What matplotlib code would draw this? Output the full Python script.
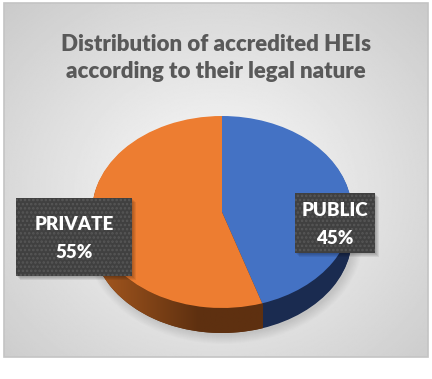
import numpy as np
import matplotlib
matplotlib.use("Agg")
import matplotlib.pyplot as plt
from matplotlib.colors import to_rgb
from matplotlib.patches import Rectangle, Ellipse, Polygon

# ── Data ──────────────────────────────────────────────────────────────────────
labels = ["PUBLIC", "PRIVATE"]
shares = [45, 55]
top_colors = ["#4472C4", "#ED7D31"]
side_colors = ["#1a2b50", "#5e3010"]
title = "Distribution of accredited HEIs\naccording to their legal nature"

plt.rcParams["hatch.linewidth"] = 1.2

W, H = 432, 379
fig = plt.figure(figsize=(W / 100, H / 100), dpi=100)
fig.patch.set_facecolor("white")

# ── Background panel (pixel coordinates) ──────────────────────────────────────
bg = fig.add_axes([0, 0, 1, 1])
x0, y0, x1, y1 = 4, 3, 428, 357
xx, yy = np.meshgrid(np.linspace(x0, x1, 300), np.linspace(y0, y1, 300))
r = np.sqrt(((xx - 216) / 250) ** 2 + ((yy - 190) / 220) ** 2)
shade = np.clip(0.985 - 0.16 * r, 0, 1)
bg.imshow(shade, cmap="gray", vmin=0, vmax=1, extent=[x0, x1, y1, y0],
          aspect="auto", interpolation="bilinear", zorder=0)
bg.add_patch(Rectangle((x0, y0), x1 - x0, y1 - y0, fill=False,
                       ec="#c4c4c4", lw=1.2, zorder=1))
bg.set_xlim(0, W)
bg.set_ylim(H, 0)
bg.axis("off")

# pie geometry in pixels
cx, cy, rx, ry, depth = 222, 212, 130, 96, 25

# soft shadow under the pie
for k in range(10):
    bg.add_patch(Ellipse((cx + 2, cy + depth + 2), 2 * rx + 2 * k, 2 * ry + 2 * k,
                         fc="black", ec="none", alpha=0.012, zorder=1))

# ── Pie ───────────────────────────────────────────────────────────────────────
m = 1.05
d = depth / ry
ax = fig.add_axes([(cx - rx * m) / W, (H - (cy + ry * m + depth)) / H,
                   2 * rx * m / W, (2 * ry * m + depth) / H])
for off in np.linspace(d, 0, 30)[:-1]:
    ax.pie(shares, colors=side_colors, startangle=90, counterclock=False,
           center=(0, -off), wedgeprops=dict(linewidth=0))

# lighter shading on the left part of the orange wall
split = np.sin(np.radians(360 * shares[0] / sum(shares)))
t = np.linspace(np.pi, 2 * np.pi, 200)
band = np.vstack([np.c_[np.cos(t), np.sin(t) - d],
                  np.c_[np.cos(t[::-1]), np.sin(t[::-1])]])
clip = Polygon(band, closed=True, transform=ax.transData)
g = np.clip(np.linspace(0, 1.6, 200), 0, 1)[None, :, None]
light, dark = np.array(to_rgb("#a8591f")), np.array(to_rgb(side_colors[1]))
img = light * (1 - g) + dark * g
im = ax.imshow(img, extent=[-1, split, -1 - d, 0.05], aspect="auto",
               interpolation="bilinear", zorder=2)
im.set_clip_path(clip)

for w in ax.pie(shares, colors=top_colors, startangle=90, counterclock=False,
                wedgeprops=dict(linewidth=0))[0]:
    w.set_zorder(3)
ax.set_aspect("auto")
ax.set_xlim(-m, m)
ax.set_ylim(-m - d, m)
ax.axis("off")

# ── Overlay: labels and title ─────────────────────────────────────────────────
fg = fig.add_axes([0, 0, 1, 1])
fg.set_xlim(0, W)
fg.set_ylim(H, 0)
fg.axis("off")

boxes = {"PUBLIC": (295, 193, 375, 253), "PRIVATE": (16, 198, 132, 276)}
for lab, val in zip(labels, shares):
    bx0, by0, bx1, by1 = boxes[lab]
    for k in range(4):
        fg.add_patch(Rectangle((bx0 + 1 + k, by0 + 1 + k), bx1 - bx0, by1 - by0,
                               fc="black", ec="none", alpha=0.07))
    fg.add_patch(Rectangle((bx0, by0), bx1 - bx0, by1 - by0, fc="#404040",
                           ec="#575757", lw=0, hatch="...."))
    mid = (bx0 + bx1) / 2
    ymid = (by0 + by1) / 2 + 1
    fg.text(mid, ymid - 14, lab, color="white", fontsize=13.5,
            fontweight="heavy", family="Lato", ha="center", va="center")
    fg.text(mid, ymid + 14, f"{val}%", color="white", fontsize=13.5,
            fontweight="heavy", family="Lato", ha="center", va="center")

fg.text(216, 58, title, color="#595959", fontsize=16, fontweight="heavy",
        family="Lato", ha="center", va="center", linespacing=1.35)

fig.savefig("out.png", dpi=100, facecolor="white")
